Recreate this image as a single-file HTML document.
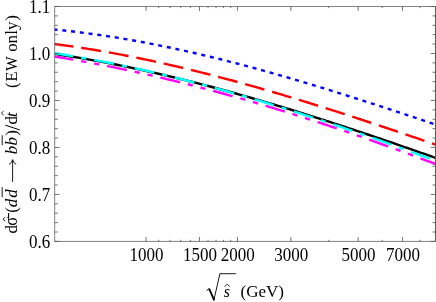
<!DOCTYPE html><html><head><meta charset="utf-8"><style>html,body{margin:0;padding:0;background:#fff}svg{display:block;will-change:transform}text{font-family:"Liberation Serif",serif;fill:#000}</style></head><body>
<svg width="436" height="302" viewBox="0 0 436 302">
<rect width="436" height="302" fill="#fff"/>
<defs><clipPath id="c"><rect x="54.70" y="6.50" width="383.90" height="234.90"/></clipPath></defs>
<g clip-path="url(#c)" fill="none">
<path d="M53.50 53.77 L56.26 54.18 L59.03 54.59 L61.79 55.01 L64.55 55.44 L67.32 55.87 L70.08 56.31 L72.84 56.76 L75.61 57.22 L78.37 57.68 L81.13 58.14 L83.90 58.62 L86.66 59.10 L89.42 59.58 L92.19 60.08 L94.95 60.58 L97.71 61.08 L100.48 61.60 L103.24 62.11 L106.00 62.64 L108.77 63.17 L111.53 63.71 L114.29 64.25 L117.06 64.80 L119.82 65.35 L122.58 65.91 L125.35 66.48 L128.11 67.05 L130.87 67.63 L133.64 68.22 L136.40 68.81 L139.16 69.40 L141.93 70.00 L144.69 70.61 L147.45 71.22 L150.22 71.84 L152.98 72.46 L155.74 73.09 L158.51 73.73 L161.27 74.37 L164.03 75.01 L166.80 75.66 L169.56 76.32 L172.32 76.98 L175.09 77.65 L177.85 78.32 L180.61 78.99 L183.38 79.68 L186.14 80.36 L188.90 81.05 L191.67 81.75 L194.43 82.45 L197.19 83.16 L199.96 83.87 L202.72 84.59 L205.48 85.31 L208.25 86.03 L211.01 86.76 L213.77 87.50 L216.54 88.24 L219.30 88.98 L222.06 89.73 L224.83 90.48 L227.59 91.24 L230.35 92.00 L233.12 92.76 L235.88 93.53 L238.64 94.31 L241.41 95.09 L244.17 95.87 L246.93 96.66 L249.69 97.45 L252.46 98.24 L255.22 99.04 L257.98 99.84 L260.75 100.65 L263.51 101.46 L266.27 102.28 L269.04 103.10 L271.80 103.92 L274.56 104.74 L277.33 105.57 L280.09 106.41 L282.85 107.24 L285.62 108.08 L288.38 108.93 L291.14 109.77 L293.91 110.63 L296.67 111.48 L299.43 112.34 L302.20 113.20 L304.96 114.06 L307.72 114.93 L310.49 115.80 L313.25 116.67 L316.01 117.55 L318.78 118.43 L321.54 119.31 L324.30 120.20 L327.07 121.09 L329.83 121.98 L332.59 122.88 L335.36 123.77 L338.12 124.67 L340.88 125.58 L343.65 126.48 L346.41 127.39 L349.17 128.30 L351.94 129.21 L354.70 130.13 L357.46 131.05 L360.23 131.97 L362.99 132.89 L365.75 133.82 L368.52 134.75 L371.28 135.68 L374.04 136.61 L376.81 137.55 L379.57 138.48 L382.33 139.42 L385.10 140.37 L387.86 141.31 L390.62 142.25 L393.39 143.20 L396.15 144.15 L398.91 145.10 L401.68 146.06 L404.44 147.01 L407.20 147.97 L409.97 148.93 L412.73 149.89 L415.49 150.85 L418.26 151.81 L421.02 152.78 L423.78 153.74 L426.55 154.71 L429.31 155.68 L432.07 156.65 L434.84 157.63 L437.60 158.60" stroke="#000" stroke-width="2.4"/>
<path d="M53.50 29.45 L56.26 29.71 L59.03 29.99 L61.79 30.27 L64.55 30.56 L67.32 30.86 L70.08 31.17 L72.84 31.49 L75.61 31.81 L78.37 32.15 L81.13 32.49 L83.90 32.84 L86.66 33.20 L89.42 33.57 L92.19 33.94 L94.95 34.33 L97.71 34.72 L100.48 35.12 L103.24 35.53 L106.00 35.94 L108.77 36.36 L111.53 36.79 L114.29 37.23 L117.06 37.68 L119.82 38.13 L122.58 38.59 L125.35 39.06 L128.11 39.54 L130.87 40.02 L133.64 40.51 L136.40 41.01 L139.16 41.52 L141.93 42.03 L144.69 42.55 L147.45 43.07 L150.22 43.61 L152.98 44.15 L155.74 44.69 L158.51 45.25 L161.27 45.81 L164.03 46.37 L166.80 46.95 L169.56 47.53 L172.32 48.11 L175.09 48.71 L177.85 49.31 L180.61 49.91 L183.38 50.52 L186.14 51.14 L188.90 51.76 L191.67 52.39 L194.43 53.03 L197.19 53.67 L199.96 54.32 L202.72 54.97 L205.48 55.63 L208.25 56.29 L211.01 56.96 L213.77 57.64 L216.54 58.32 L219.30 59.00 L222.06 59.70 L224.83 60.39 L227.59 61.09 L230.35 61.80 L233.12 62.51 L235.88 63.23 L238.64 63.95 L241.41 64.68 L244.17 65.41 L246.93 66.15 L249.69 66.89 L252.46 67.64 L255.22 68.39 L257.98 69.15 L260.75 69.91 L263.51 70.67 L266.27 71.44 L269.04 72.21 L271.80 72.99 L274.56 73.77 L277.33 74.56 L280.09 75.35 L282.85 76.14 L285.62 76.94 L288.38 77.74 L291.14 78.55 L293.91 79.36 L296.67 80.17 L299.43 80.99 L302.20 81.81 L304.96 82.63 L307.72 83.46 L310.49 84.29 L313.25 85.13 L316.01 85.96 L318.78 86.81 L321.54 87.65 L324.30 88.50 L327.07 89.35 L329.83 90.20 L332.59 91.06 L335.36 91.92 L338.12 92.78 L340.88 93.64 L343.65 94.51 L346.41 95.38 L349.17 96.26 L351.94 97.13 L354.70 98.01 L357.46 98.89 L360.23 99.77 L362.99 100.66 L365.75 101.55 L368.52 102.43 L371.28 103.33 L374.04 104.22 L376.81 105.12 L379.57 106.01 L382.33 106.91 L385.10 107.81 L387.86 108.72 L390.62 109.62 L393.39 110.53 L396.15 111.44 L398.91 112.35 L401.68 113.26 L404.44 114.17 L407.20 115.08 L409.97 116.00 L412.73 116.92 L415.49 117.83 L418.26 118.75 L421.02 119.67 L423.78 120.59 L426.55 121.51 L429.31 122.44 L432.07 123.36 L434.84 124.28 L437.60 125.21" stroke="#0000ff" stroke-width="2.4" stroke-dasharray="4 4.825"/>
<path d="M53.50 43.93 L56.26 44.28 L59.03 44.64 L61.79 45.01 L64.55 45.38 L67.32 45.77 L70.08 46.16 L72.84 46.55 L75.61 46.96 L78.37 47.37 L81.13 47.79 L83.90 48.22 L86.66 48.65 L89.42 49.10 L92.19 49.54 L94.95 50.00 L97.71 50.46 L100.48 50.93 L103.24 51.41 L106.00 51.90 L108.77 52.39 L111.53 52.88 L114.29 53.39 L117.06 53.90 L119.82 54.42 L122.58 54.94 L125.35 55.47 L128.11 56.01 L130.87 56.56 L133.64 57.11 L136.40 57.66 L139.16 58.23 L141.93 58.80 L144.69 59.37 L147.45 59.95 L150.22 60.54 L152.98 61.14 L155.74 61.74 L158.51 62.34 L161.27 62.95 L164.03 63.57 L166.80 64.20 L169.56 64.83 L172.32 65.46 L175.09 66.10 L177.85 66.75 L180.61 67.40 L183.38 68.06 L186.14 68.72 L188.90 69.39 L191.67 70.06 L194.43 70.74 L197.19 71.43 L199.96 72.12 L202.72 72.81 L205.48 73.51 L208.25 74.21 L211.01 74.92 L213.77 75.64 L216.54 76.36 L219.30 77.08 L222.06 77.81 L224.83 78.55 L227.59 79.29 L230.35 80.03 L233.12 80.78 L235.88 81.53 L238.64 82.29 L241.41 83.05 L244.17 83.81 L246.93 84.58 L249.69 85.36 L252.46 86.14 L255.22 86.92 L257.98 87.71 L260.75 88.50 L263.51 89.29 L266.27 90.09 L269.04 90.89 L271.80 91.70 L274.56 92.51 L277.33 93.33 L280.09 94.14 L282.85 94.97 L285.62 95.79 L288.38 96.62 L291.14 97.45 L293.91 98.29 L296.67 99.13 L299.43 99.97 L302.20 100.82 L304.96 101.67 L307.72 102.52 L310.49 103.37 L313.25 104.23 L316.01 105.09 L318.78 105.96 L321.54 106.83 L324.30 107.70 L327.07 108.57 L329.83 109.45 L332.59 110.33 L335.36 111.21 L338.12 112.09 L340.88 112.98 L343.65 113.87 L346.41 114.76 L349.17 115.66 L351.94 116.55 L354.70 117.45 L357.46 118.36 L360.23 119.26 L362.99 120.17 L365.75 121.07 L368.52 121.99 L371.28 122.90 L374.04 123.81 L376.81 124.73 L379.57 125.65 L382.33 126.57 L385.10 127.49 L387.86 128.41 L390.62 129.34 L393.39 130.26 L396.15 131.19 L398.91 132.12 L401.68 133.06 L404.44 133.99 L407.20 134.92 L409.97 135.86 L412.73 136.80 L415.49 137.73 L418.26 138.67 L421.02 139.61 L423.78 140.56 L426.55 141.50 L429.31 142.44 L432.07 143.39 L434.84 144.33 L437.60 145.28" stroke="#ff0000" stroke-width="2.4" stroke-dasharray="20.05 7.95"/>
<path d="M53.50 53.03 L56.26 53.45 L59.03 53.88 L61.79 54.31 L64.55 54.76 L67.32 55.21 L70.08 55.66 L72.84 56.13 L75.61 56.60 L78.37 57.07 L81.13 57.56 L83.90 58.04 L86.66 58.54 L89.42 59.04 L92.19 59.55 L94.95 60.06 L97.71 60.59 L100.48 61.11 L103.24 61.65 L106.00 62.19 L108.77 62.73 L111.53 63.28 L114.29 63.84 L117.06 64.40 L119.82 64.97 L122.58 65.55 L125.35 66.13 L128.11 66.72 L130.87 67.31 L133.64 67.91 L136.40 68.52 L139.16 69.13 L141.93 69.75 L144.69 70.37 L147.45 71.00 L150.22 71.63 L152.98 72.27 L155.74 72.91 L158.51 73.56 L161.27 74.22 L164.03 74.88 L166.80 75.55 L169.56 76.22 L172.32 76.90 L175.09 77.58 L177.85 78.27 L180.61 78.96 L183.38 79.66 L186.14 80.36 L188.90 81.07 L191.67 81.79 L194.43 82.50 L197.19 83.23 L199.96 83.96 L202.72 84.69 L205.48 85.43 L208.25 86.17 L211.01 86.92 L213.77 87.68 L216.54 88.43 L219.30 89.20 L222.06 89.96 L224.83 90.74 L227.59 91.51 L230.35 92.30 L233.12 93.08 L235.88 93.87 L238.64 94.67 L241.41 95.47 L244.17 96.27 L246.93 97.08 L249.69 97.89 L252.46 98.71 L255.22 99.53 L257.98 100.36 L260.75 101.19 L263.51 102.02 L266.27 102.86 L269.04 103.70 L271.80 104.55 L274.56 105.40 L277.33 106.25 L280.09 107.11 L282.85 107.98 L285.62 108.84 L288.38 109.71 L291.14 110.59 L293.91 111.47 L296.67 112.35 L299.43 113.23 L302.20 114.12 L304.96 115.02 L307.72 115.91 L310.49 116.81 L313.25 117.72 L316.01 118.62 L318.78 119.53 L321.54 120.45 L324.30 121.37 L327.07 122.29 L329.83 123.21 L332.59 124.14 L335.36 125.07 L338.12 126.00 L340.88 126.94 L343.65 127.88 L346.41 128.83 L349.17 129.77 L351.94 130.72 L354.70 131.68 L357.46 132.63 L360.23 133.59 L362.99 134.55 L365.75 135.52 L368.52 136.49 L371.28 137.46 L374.04 138.43 L376.81 139.41 L379.57 140.39 L382.33 141.37 L385.10 142.35 L387.86 143.34 L390.62 144.33 L393.39 145.32 L396.15 146.31 L398.91 147.31 L401.68 148.31 L404.44 149.31 L407.20 150.32 L409.97 151.32 L412.73 152.33 L415.49 153.34 L418.26 154.36 L421.02 155.37 L423.78 156.39 L426.55 157.41 L429.31 158.43 L432.07 159.46 L434.84 160.48 L437.60 161.51" stroke="#00ffff" stroke-width="2.4" stroke-dasharray="20.1 8.0 5.2 8.0"/>
<path d="M53.50 56.36 L56.26 56.81 L59.03 57.26 L61.79 57.71 L64.55 58.17 L67.32 58.64 L70.08 59.11 L72.84 59.59 L75.61 60.07 L78.37 60.56 L81.13 61.06 L83.90 61.56 L86.66 62.07 L89.42 62.58 L92.19 63.09 L94.95 63.62 L97.71 64.15 L100.48 64.68 L103.24 65.22 L106.00 65.76 L108.77 66.31 L111.53 66.87 L114.29 67.43 L117.06 67.99 L119.82 68.56 L122.58 69.14 L125.35 69.72 L128.11 70.31 L130.87 70.90 L133.64 71.50 L136.40 72.10 L139.16 72.71 L141.93 73.32 L144.69 73.94 L147.45 74.56 L150.22 75.19 L152.98 75.83 L155.74 76.46 L158.51 77.11 L161.27 77.76 L164.03 78.41 L166.80 79.07 L169.56 79.73 L172.32 80.40 L175.09 81.08 L177.85 81.75 L180.61 82.44 L183.38 83.13 L186.14 83.82 L188.90 84.52 L191.67 85.22 L194.43 85.93 L197.19 86.64 L199.96 87.36 L202.72 88.08 L205.48 88.80 L208.25 89.54 L211.01 90.27 L213.77 91.01 L216.54 91.76 L219.30 92.51 L222.06 93.26 L224.83 94.02 L227.59 94.79 L230.35 95.55 L233.12 96.33 L235.88 97.10 L238.64 97.89 L241.41 98.67 L244.17 99.46 L246.93 100.26 L249.69 101.06 L252.46 101.86 L255.22 102.67 L257.98 103.48 L260.75 104.30 L263.51 105.12 L266.27 105.95 L269.04 106.78 L271.80 107.61 L274.56 108.45 L277.33 109.30 L280.09 110.14 L282.85 111.00 L285.62 111.85 L288.38 112.71 L291.14 113.57 L293.91 114.44 L296.67 115.32 L299.43 116.19 L302.20 117.07 L304.96 117.96 L307.72 118.84 L310.49 119.74 L313.25 120.63 L316.01 121.53 L318.78 122.44 L321.54 123.35 L324.30 124.26 L327.07 125.18 L329.83 126.10 L332.59 127.02 L335.36 127.95 L338.12 128.88 L340.88 129.82 L343.65 130.75 L346.41 131.70 L349.17 132.64 L351.94 133.60 L354.70 134.55 L357.46 135.51 L360.23 136.47 L362.99 137.43 L365.75 138.40 L368.52 139.38 L371.28 140.35 L374.04 141.33 L376.81 142.32 L379.57 143.30 L382.33 144.29 L385.10 145.29 L387.86 146.28 L390.62 147.29 L393.39 148.29 L396.15 149.30 L398.91 150.31 L401.68 151.32 L404.44 152.34 L407.20 153.36 L409.97 154.39 L412.73 155.42 L415.49 156.45 L418.26 157.48 L421.02 158.52 L423.78 159.56 L426.55 160.61 L429.31 161.65 L432.07 162.70 L434.84 163.76 L437.60 164.81" stroke="#ff00ff" stroke-width="2.4" stroke-dasharray="20.1 8.0 5.2 8.0 5.2 8.0"/>
</g>
<g stroke="#6a6a6a" stroke-width="0.85" fill="none">
<path d="M54.30 6.50H436.00 M54.30 241.40H436.00 M54.70 6.50V241.40"/>
<path d="M435.5 6.10V241.80" stroke="#5a5a5a" stroke-width="1"/>
<path d="M54.70 241.40h4.80 M435.60 241.40h-4.80 M54.70 232.00h3.10 M435.60 232.00h-3.10 M54.70 222.61h3.10 M435.60 222.61h-3.10 M54.70 213.21h3.10 M435.60 213.21h-3.10 M54.70 203.82h3.10 M435.60 203.82h-3.10 M54.70 194.42h4.80 M435.60 194.42h-4.80 M54.70 185.02h3.10 M435.60 185.02h-3.10 M54.70 175.63h3.10 M435.60 175.63h-3.10 M54.70 166.23h3.10 M435.60 166.23h-3.10 M54.70 156.84h3.10 M435.60 156.84h-3.10 M54.70 147.44h4.80 M435.60 147.44h-4.80 M54.70 138.04h3.10 M435.60 138.04h-3.10 M54.70 128.65h3.10 M435.60 128.65h-3.10 M54.70 119.25h3.10 M435.60 119.25h-3.10 M54.70 109.86h3.10 M435.60 109.86h-3.10 M54.70 100.46h4.80 M435.60 100.46h-4.80 M54.70 91.06h3.10 M435.60 91.06h-3.10 M54.70 81.67h3.10 M435.60 81.67h-3.10 M54.70 72.27h3.10 M435.60 72.27h-3.10 M54.70 62.88h3.10 M435.60 62.88h-3.10 M54.70 53.48h4.80 M435.60 53.48h-4.80 M54.70 44.08h3.10 M435.60 44.08h-3.10 M54.70 34.69h3.10 M435.60 34.69h-3.10 M54.70 25.29h3.10 M435.60 25.29h-3.10 M54.70 15.90h3.10 M435.60 15.90h-3.10 M54.70 6.50h4.80 M435.60 6.50h-4.80 M146.05 241.40v-4.40 M146.05 6.50v4.40 M199.49 241.40v-4.40 M199.49 6.50v4.40 M237.41 241.40v-4.40 M237.41 6.50v4.40 M290.86 241.40v-4.40 M290.86 6.50v4.40 M358.19 241.40v-4.40 M358.19 6.50v4.40 M402.54 241.40v-4.40 M402.54 6.50v4.40 M158.61 241.40v-1.60 M158.61 6.50v1.60 M170.08 241.40v-1.60 M170.08 6.50v1.60 M180.63 241.40v-1.60 M180.63 6.50v1.60 M190.40 241.40v-1.60 M190.40 6.50v1.60 M208.00 241.40v-1.60 M208.00 6.50v1.60 M215.99 241.40v-1.60 M215.99 6.50v1.60 M223.53 241.40v-1.60 M223.53 6.50v1.60 M230.65 241.40v-1.60 M230.65 6.50v1.60 M328.78 241.40v-1.60 M328.78 6.50v1.60 M382.22 241.40v-1.60 M382.22 6.50v1.60 M420.14 241.40v-1.60 M420.14 6.50v1.60" stroke="#5a5a5a"/>
</g>
<text transform="translate(50.20 247.50) scale(1 1.080)" font-size="17" text-anchor="end">0.6</text>
<text transform="translate(50.20 200.52) scale(1 1.080)" font-size="17" text-anchor="end">0.7</text>
<text transform="translate(50.20 153.54) scale(1 1.080)" font-size="17" text-anchor="end">0.8</text>
<text transform="translate(50.20 106.56) scale(1 1.080)" font-size="17" text-anchor="end">0.9</text>
<text transform="translate(50.20 59.58) scale(1 1.080)" font-size="17" text-anchor="end">1.0</text>
<text transform="translate(50.20 12.60) scale(1 1.080)" font-size="17" text-anchor="end">1.1</text>
<text transform="translate(146.45 260.80) scale(1 1.080)" font-size="17" text-anchor="middle">1000</text>
<text transform="translate(199.89 260.80) scale(1 1.080)" font-size="17" text-anchor="middle">1500</text>
<text transform="translate(237.81 260.80) scale(1 1.080)" font-size="17" text-anchor="middle">2000</text>
<text transform="translate(291.26 260.80) scale(1 1.080)" font-size="17" text-anchor="middle">3000</text>
<text transform="translate(358.59 260.80) scale(1 1.080)" font-size="17" text-anchor="middle">5000</text>
<text transform="translate(402.94 260.80) scale(1 1.080)" font-size="17" text-anchor="middle">7000</text>
<path d="M206.5 290.5 L208.9 288.8 L213.9 300.0 L219.9 273.7 H235.8" stroke="#000" stroke-width="0.9" fill="none" stroke-linejoin="miter"/>
<path d="M208.3 289.0 L209.9 288.3 L214.9 299.4 L213.9 301.4 Z" fill="#000"/>
<text x="223.8" y="296.9" font-size="16" font-style="italic">s</text>
<path d="M224.6 286.8 L227.2 284.1 L229.8 286.8" stroke="#000" stroke-width="0.8" fill="none"/>
<text x="240.5" y="296.7" font-size="17">(GeV)</text>
<text transform="translate(17.00 233.60) rotate(-90) scale(1.000 1.000)" font-size="17">d</text>
<text transform="translate(17.00 225.63) rotate(-90) scale(0.981 1.100)" font-size="17">σ</text>
<text transform="translate(17.00 212.73) rotate(-90) scale(1.000 1.000)" font-size="17">(</text>
<text transform="translate(17.00 207.13) rotate(-90) scale(1.000 1.000)" font-size="17" font-style="italic">d</text>
<text transform="translate(17.00 197.83) rotate(-90) scale(1.000 1.000)" font-size="17" font-style="italic">d</text>
<text transform="translate(17.00 154.16) rotate(-90) scale(1.000 1.000)" font-size="17" font-style="italic">b</text>
<text transform="translate(17.00 145.56) rotate(-90) scale(1.000 1.000)" font-size="17" font-style="italic">b</text>
<text transform="translate(17.00 135.83) rotate(-90) scale(1.000 1.000)" font-size="17">)</text>
<text transform="translate(17.00 124.60) rotate(-90) scale(1.000 1.000)" font-size="17">d</text>
<text transform="translate(17.00 117.06) rotate(-90) scale(1.000 1.000)" font-size="17" font-style="italic">t</text>
<text transform="translate(17.00 88.03) rotate(-90) scale(1.000 1.000)" font-size="17">(</text>
<text transform="translate(17.00 81.66) rotate(-90) scale(1.000 1.000)" font-size="17">E</text>
<text transform="translate(17.00 70.92) rotate(-90) scale(0.913 1.000)" font-size="17">W</text>
<text transform="translate(17.00 51.80) rotate(-90) scale(1.000 1.000)" font-size="17">o</text>
<text transform="translate(17.00 43.57) rotate(-90) scale(1.000 1.000)" font-size="17">n</text>
<text transform="translate(17.00 34.81) rotate(-90) scale(1.000 1.000)" font-size="17">l</text>
<text transform="translate(17.00 29.92) rotate(-90) scale(1.000 1.000)" font-size="17">y</text>
<text transform="translate(17.00 20.83) rotate(-90) scale(1.000 1.000)" font-size="17">)</text>
<path d="M19.7 129.9L5.3 125.2" stroke="#000" stroke-width="1" fill="none"/>
<path d="M8.6 218.5V213.0" stroke="#000" stroke-width="1.1" fill="none"/>
<path d="M12.6 181.9V160.4 M9.0 164.4 Q12.1 162.8 12.6 159.6 Q13.1 162.8 16.2 164.4" stroke="#000" stroke-width="0.9" fill="none"/>
<path d="M2.2 197.2V187.2 M2.2 145.2V135.3" stroke="#000" stroke-width="0.9" fill="none"/>
<path d="M5.3 221.2L2.9 219.2L5.3 217.2 M3.7 115.2L1.3 113.2L3.7 111.2" stroke="#000" stroke-width="0.8" fill="none"/>
</svg></body></html>
